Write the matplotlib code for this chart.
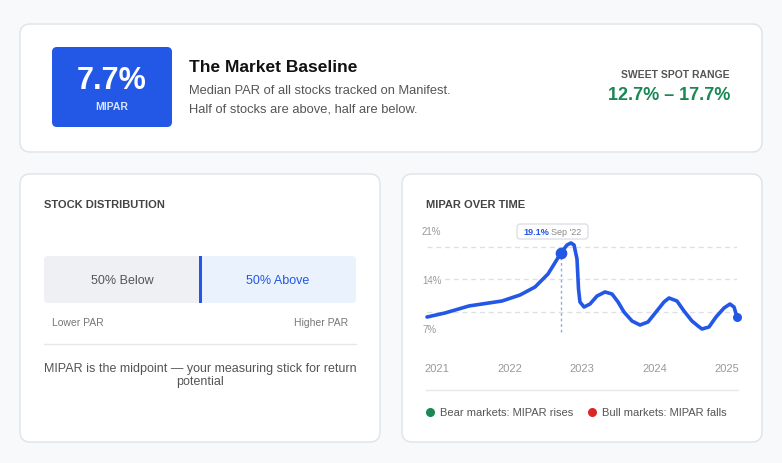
import matplotlib
matplotlib.use("Agg")
import matplotlib.pyplot as plt
from matplotlib.patches import FancyBboxPatch, Rectangle

plt.rcParams['font.family'] = ['Liberation Sans', 'DejaVu Sans']

years = [2020.862, 2021.11, 2021.441, 2021.897, 2022.145, 2022.352, 2022.531, 2022.71, 2022.793,
         2022.848, 2022.89, 2022.931, 2022.952, 2022.972, 2023.028, 2023.11, 2023.207, 2023.317,
         2023.414, 2023.497, 2023.579, 2023.69, 2023.8, 2023.91, 2024.021, 2024.131, 2024.2,
         2024.31, 2024.407, 2024.517, 2024.6, 2024.655, 2024.752, 2024.848, 2024.959, 2025.041,
         2025.097, 2025.138]
mipar = [8.71, 9.29, 10.29, 11.0, 11.86, 13.0, 14.86, 17.86, 19.0,
         19.29, 19.0, 17.0, 12.71, 10.86, 10.14, 10.57, 11.71, 12.29,
         12.0, 10.86, 9.43, 8.14, 7.57, 8.0, 9.43, 10.86, 11.43,
         11.0, 9.57, 8.14, 7.43, 7.0, 7.29, 8.71, 10.0, 10.57,
         10.14, 8.71]
grid_vals = [18.71, 14.14, 9.43]
ytick_labels = ["21%", "14%", "7%"]
xtick_labels = ["2021", "2022", "2023", "2024", "2025"]
peak_year, peak_val = 2022.71, 17.86
below_pct, above_pct = 50, 50

W, H = 782, 464
fig = plt.figure(figsize=(7.82, 4.64), dpi=100)
fig.patch.set_facecolor("#f8f9fb")
ax = fig.add_axes([0, 0, 1, 1])
ax.set_xlim(0, W); ax.set_ylim(H, 0); ax.axis("off")

def card(x0, y0, x1, y1):
    ax.add_patch(FancyBboxPatch((x0, y0), x1 - x0, y1 - y0, boxstyle="round,pad=0,rounding_size=10",
                                fc="white", ec="#dfe3e8", lw=1))
card(20, 25, 762, 153)
card(20, 175, 380, 443)
card(402, 175, 762, 443)

# header
ax.add_patch(FancyBboxPatch((52, 48), 120, 80, boxstyle="round,pad=0,rounding_size=5", fc="#2357e5", ec="none"))
ax.text(112, 81, "7.7%", color="white", fontsize=22, fontweight="bold", ha="center", va="center")
ax.text(112, 107, "MIPAR", color="#dbe5ff", fontsize=7.5, fontweight="bold", ha="center", va="center")
ax.text(189, 68, "The Market Baseline", color="#111", fontsize=12.5, fontweight="bold", va="center")
ax.text(189, 91, "Median PAR of all stocks tracked on Manifest.", color="#555", fontsize=9.3, va="center")
ax.text(189, 110, "Half of stocks are above, half are below.", color="#555", fontsize=9.3, va="center")
ax.text(730, 75, "SWEET SPOT RANGE", color="#555", fontsize=7.5, fontweight="bold", ha="right", va="center")
ax.text(730, 96, "12.7% – 17.7%", color="#1a8754", fontsize=13, fontweight="bold", ha="right", va="center")

# distribution
ax.text(44, 205, "STOCK DISTRIBUTION", color="#444", fontsize=8, fontweight="bold", va="center")
x0, x1 = 44, 356
xm = x0 + (x1 - x0) * below_pct / (below_pct + above_pct)
ax.add_patch(FancyBboxPatch((x0, 257), xm - x0, 47, boxstyle="round,pad=0,rounding_size=4", fc="#eef0f3", ec="none"))
ax.add_patch(FancyBboxPatch((xm, 257), x1 - xm, 47, boxstyle="round,pad=0,rounding_size=4", fc="#eaf2fd", ec="none"))
ax.add_patch(Rectangle((xm - 1, 257), 3, 47, fc="#2357e5", ec="none"))
ax.text((x0 + xm) / 2, 281, f"{below_pct}% Below", color="#555", fontsize=9, ha="center", va="center")
ax.text((xm + x1) / 2, 281, f"{above_pct}% Above", color="#2357e5", fontsize=9, ha="center", va="center")
ax.text(52, 323, "Lower PAR", color="#777", fontsize=7.5, va="center")
ax.text(348, 323, "Higher PAR", color="#777", fontsize=7.5, ha="right", va="center")
ax.plot([44, 356], [345, 345], color="#e5e7eb", lw=1)
ax.text(200, 369, "MIPAR is the midpoint — your measuring stick for return", color="#555", fontsize=9, ha="center", va="center")
ax.text(200, 382, "potential", color="#555", fontsize=9, ha="center", va="center")

# line chart card
ax.text(426, 205, "MIPAR OVER TIME", color="#444", fontsize=8, fontweight="bold", va="center")
for lbl, py in zip(ytick_labels, [232, 281, 330]):
    ax.text(422, py, lbl, color="#999", fontsize=7, va="center")
for i, lbl in enumerate(xtick_labels):
    ax.text(437 + 72.5 * i, 369, lbl, color="#999", fontsize=8, ha="center", va="center")
ax.plot([426, 738], [391, 391], color="#e5e7eb", lw=1)
ax.scatter([430], [413], s=30, color="#1a8754")
ax.text(440, 413, "Bear markets: MIPAR rises", color="#555", fontsize=8, va="center")
ax.scatter([592], [413], s=30, color="#dc2626")
ax.text(602, 413, "Bull markets: MIPAR falls", color="#555", fontsize=8, va="center")

# tooltip
ax.add_patch(FancyBboxPatch((517, 225), 71, 15, boxstyle="round,pad=0,rounding_size=3", fc="white", ec="#d5d9de", lw=0.8))
ax.text(523, 232.5, "19.1%", color="#2357e5", fontsize=6.5, fontweight="bold", va="center")
ax.text(551, 232.5, "Sep '22", color="#888", fontsize=6.5, va="center")

# inset line axes: x 2020.86..2025.14 -> px 427..737 ; y 6..22 -> px 337..225
la = fig.add_axes([427 / W, (H - 337) / H, 310 / W, 112 / H])
la.set_xlim(2020.862, 2025.138); la.set_ylim(6, 22)
la.axis("off"); la.patch.set_alpha(0)
for g in grid_vals:
    la.axhline(g, color="#dcdfe4", lw=0.9, ls=(0, (4, 3)), zorder=1)
la.plot([peak_year, peak_year], [6.6, peak_val], color="#8fa9ee", lw=1, ls=(0, (2, 2)), zorder=2)
la.plot(years, mipar, color="#2357e5", lw=2.6, solid_capstyle="round", solid_joinstyle="round", zorder=3, clip_on=False)
la.scatter([peak_year], [peak_val], s=55, color="#2357e5", zorder=4, clip_on=False)
la.scatter([years[-1]], [mipar[-1]], s=30, color="#2357e5", zorder=4, clip_on=False)

fig.savefig("out.png", dpi=100, facecolor=fig.get_facecolor())
